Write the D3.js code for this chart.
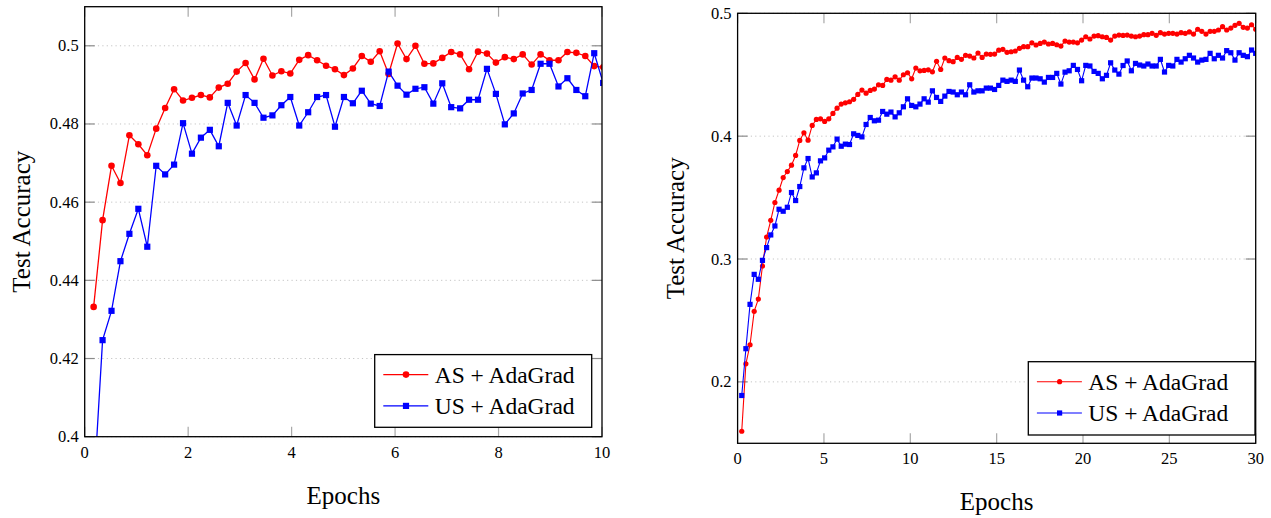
<!DOCTYPE html>
<html><head><meta charset="utf-8">
<script src="https://cdn.jsdelivr.net/npm/d3@7"></script>
<style>
html,body{margin:0;padding:0;background:#fff;}
svg{display:block;font-family:"Liberation Serif","Times New Roman",serif;}
</style></head>
<body><svg id="c" width="1271" height="518"></svg>
<script>
// ---------- data ----------
const seriesNames = ["AS + AdaGrad", "US + AdaGrad"];
const leftEpochStep = 0.1728;   // epochs between evaluations (left run)
const rightEpochStep = 0.24;    // epochs between evaluations (right run)
const leftXTicks = [0, 2, 4, 6, 8, 10];
const leftYTicks = [0.4, 0.42, 0.44, 0.46, 0.48, 0.5];
const rightXTicks = [0, 5, 10, 15, 20, 25, 30];
const rightYTicks = [0.2, 0.3, 0.4, 0.5];

const leftAS = [0.4332,0.4554,0.4693,0.4649,0.4771,0.4748,0.4720,0.4788,0.4841,0.4889,
0.4860,0.4867,0.4874,0.4868,0.4893,0.4903,0.4934,0.4956,0.4914,0.4967,
0.4924,0.4935,0.4929,0.4964,0.4976,0.4963,0.4949,0.4940,0.4925,0.4942,
0.4974,0.4959,0.4986,0.4928,0.5006,0.4966,0.5000,0.4954,0.4955,0.4969,
0.4984,0.4978,0.4940,0.4985,0.4980,0.4957,0.4971,0.4966,0.4978,0.4952,
0.4978,0.4963,0.4963,0.4984,0.4982,0.4974,0.4948,0.4945];
const leftUS = [0.3860,0.4247,0.4322,0.4449,0.4519,0.4583,0.4486,0.4693,0.4671,0.4696,
0.4802,0.4724,0.4765,0.4785,0.4743,0.4854,0.4796,0.4874,0.4854,0.4816,
0.4822,0.4848,0.4869,0.4796,0.4830,0.4869,0.4874,0.4793,0.4869,0.4853,
0.4885,0.4852,0.4846,0.4934,0.4898,0.4875,0.4890,0.4894,0.4852,0.4904,
0.4843,0.4840,0.4862,0.4862,0.4941,0.4877,0.4799,0.4827,0.4878,0.4887,
0.4954,0.4954,0.4896,0.4917,0.4887,0.4871,0.4981,0.4905];

const rightAS = [0.1598,0.2147,0.2302,0.2574,0.2674,0.2943,0.3179,0.3315,0.3460,0.3560,
0.3663,0.3712,0.3764,0.3843,0.3965,0.4027,0.3967,0.4087,0.4136,0.4141,
0.4120,0.4141,0.4185,0.4228,0.4261,0.4271,0.4280,0.4300,0.4340,0.4375,
0.4350,0.4372,0.4383,0.4418,0.4413,0.4462,0.4456,0.4483,0.4456,0.4500,
0.4516,0.4467,0.4554,0.4532,0.4535,0.4540,0.4524,0.4609,0.4543,0.4636,
0.4614,0.4606,0.4641,0.4625,0.4658,0.4652,0.4636,0.4676,0.4641,0.4668,
0.4666,0.4668,0.4700,0.4707,0.4682,0.4687,0.4693,0.4715,0.4728,0.4728,
0.4760,0.4742,0.4755,0.4766,0.4750,0.4755,0.4744,0.4733,0.4774,0.4766,
0.4766,0.4760,0.4782,0.4809,0.4791,0.4815,0.4818,0.4809,0.4804,0.4782,
0.4815,0.4823,0.4820,0.4823,0.4815,0.4809,0.4815,0.4826,0.4826,0.4837,
0.4821,0.4842,0.4831,0.4837,0.4837,0.4831,0.4842,0.4837,0.4848,0.4831,
0.4870,0.4853,0.4831,0.4853,0.4853,0.4864,0.4891,0.4864,0.4880,0.4902,
0.4918,0.4886,0.4880,0.4907,0.4870];
const rightUS = [0.1889,0.2270,0.2631,0.2875,0.2835,0.2989,0.3093,0.3196,0.3269,0.3405,
0.3389,0.3421,0.3541,0.3476,0.3590,0.3742,0.3818,0.3668,0.3701,0.3799,
0.3823,0.3886,0.3913,0.3976,0.3918,0.3935,0.3932,0.4019,0.4006,0.3994,
0.4095,0.4152,0.4125,0.4130,0.4201,0.4179,0.4196,0.4157,0.4190,0.4239,
0.4304,0.4250,0.4239,0.4261,0.4304,0.4277,0.4369,0.4315,0.4283,0.4326,
0.4364,0.4359,0.4337,0.4359,0.4337,0.4418,0.4359,0.4369,0.4369,0.4391,
0.4391,0.4380,0.4413,0.4456,0.4446,0.4456,0.4446,0.4538,0.4456,0.4402,
0.4473,0.4473,0.4467,0.4440,0.4478,0.4478,0.4511,0.4424,0.4521,0.4532,
0.4576,0.4543,0.4451,0.4576,0.4571,0.4527,0.4511,0.4467,0.4495,0.4597,
0.4538,0.4505,0.4575,0.4612,0.4532,0.4592,0.4579,0.4571,0.4587,0.4571,
0.4571,0.4625,0.4522,0.4576,0.4571,0.4625,0.4603,0.4630,0.4658,0.4636,
0.4603,0.4619,0.4625,0.4674,0.4630,0.4658,0.4636,0.4696,0.4679,0.4619,
0.4679,0.4658,0.4647,0.4701,0.4674];

// ---------- drawing ----------
const svg = d3.select("#c");
const colors = ["#ff0000", "#0000ff"];

function drawChart(cfg, id) {
  const x = d3.scaleLinear().domain(cfg.xDomain).range([cfg.x0, cfg.x1]);
  const y = d3.scaleLinear().domain(cfg.yDomain).range([cfg.y1, cfg.y0]);
  const g = svg.append("g");

  g.append("clipPath").attr("id", "clip" + id).append("rect")
    .attr("x", cfg.x0).attr("y", cfg.y0)
    .attr("width", cfg.x1 - cfg.x0).attr("height", cfg.y1 - cfg.y0);

  // horizontal grid (dotted)
  g.selectAll(".grid").data(cfg.yTicks).enter().append("line")
    .attr("x1", cfg.x0).attr("x2", cfg.x1)
    .attr("y1", d => y(d)).attr("y2", d => y(d))
    .attr("stroke", "#c4c4c4").attr("stroke-width", 1)
    .attr("stroke-dasharray", "1.2,3.2");

  // tick marks (inward, on all four sides)
  const tl = 10;
  const xt = g.append("g").attr("stroke", "#a8a8a8").attr("stroke-width", 1.2);
  cfg.xTicks.forEach(t => {
    xt.append("line").attr("x1", x(t)).attr("x2", x(t)).attr("y1", cfg.y1).attr("y2", cfg.y1 - tl);
    xt.append("line").attr("x1", x(t)).attr("x2", x(t)).attr("y1", cfg.y0).attr("y2", cfg.y0 + tl);
  });
  const yt = g.append("g").attr("stroke", "#8a8a8a").attr("stroke-width", 1.2);
  cfg.yTicks.forEach(t => {
    yt.append("line").attr("y1", y(t)).attr("y2", y(t)).attr("x1", cfg.x0).attr("x2", cfg.x0 + tl);
    yt.append("line").attr("y1", y(t)).attr("y2", y(t)).attr("x1", cfg.x1).attr("x2", cfg.x1 - tl);
  });

  // series
  const plot = g.append("g").attr("clip-path", "url(#clip" + id + ")");
  cfg.series.forEach((vals, si) => {
    const pts = vals.map((v, i) => [(i + 1) * cfg.step, v]);
    plot.append("path").datum(pts)
      .attr("fill", "none").attr("stroke", colors[si]).attr("stroke-width", cfg.lw)
      .attr("d", d3.line().x(d => x(d[0])).y(d => y(d[1])));
    if (si === 0) {
      plot.selectAll(".m" + si).data(pts).enter().append("circle")
        .attr("cx", d => x(d[0])).attr("cy", d => y(d[1])).attr("r", cfg.r)
        .attr("fill", colors[si]);
    } else {
      plot.selectAll(".m" + si).data(pts).enter().append("rect")
        .attr("x", d => x(d[0]) - cfg.sq / 2).attr("y", d => y(d[1]) - cfg.sq / 2)
        .attr("width", cfg.sq).attr("height", cfg.sq)
        .attr("fill", colors[si]);
    }
  });

  // frame
  g.append("rect").attr("x", cfg.x0).attr("y", cfg.y0)
    .attr("width", cfg.x1 - cfg.x0).attr("height", cfg.y1 - cfg.y0)
    .attr("fill", "none").attr("stroke", "#000").attr("stroke-width", 1.3);

  // tick labels
  g.selectAll(".xl").data(cfg.xTicks).enter().append("text")
    .attr("x", d => x(d)).attr("y", cfg.y1 + 21)
    .attr("text-anchor", "middle").attr("font-size", 16.5).attr("fill", "#000")
    .text(d => d);
  g.selectAll(".yl").data(cfg.yTicks).enter().append("text")
    .attr("x", cfg.x0 - 6).attr("y", d => y(d) + 5.5)
    .attr("text-anchor", "end").attr("font-size", 16.5).attr("fill", "#000")
    .text(d => d3.format("")(+d.toFixed(2)));

  // axis titles
  g.append("text").attr("x", (cfg.x0 + cfg.x1) / 2).attr("y", cfg.xTitleY)
    .attr("text-anchor", "middle").attr("font-size", 25).text("Epochs");
  g.append("text")
    .attr("transform", `translate(${cfg.yTitleX},${(cfg.y0 + cfg.y1) / 2}) rotate(-90)`)
    .attr("text-anchor", "middle").attr("font-size", 25).text("Test Accuracy");

  // legend
  const L = cfg.legend;
  const lx = cfg.x1 - L.right - L.w, ly = cfg.y1 - L.bottom - L.h;
  const lg = g.append("g");
  lg.append("rect").attr("x", lx).attr("y", ly).attr("width", L.w).attr("height", L.h)
    .attr("fill", "#fff").attr("stroke", "#000").attr("stroke-width", 1.3);
  seriesNames.forEach((name, si) => {
    const cy = ly + 20 + si * 31.3;
    lg.append("line").attr("x1", lx + 8.6).attr("x2", lx + 53.6).attr("y1", cy).attr("y2", cy)
      .attr("stroke", colors[si]).attr("stroke-width", cfg.lw);
    if (si === 0) lg.append("circle").attr("cx", lx + 31.3).attr("cy", cy).attr("r", cfg.r).attr("fill", colors[si]);
    else lg.append("rect").attr("x", lx + 31.3 - cfg.sq / 2).attr("y", cy - cfg.sq / 2)
      .attr("width", cfg.sq).attr("height", cfg.sq).attr("fill", colors[si]);
    lg.append("text").attr("x", lx + 60).attr("y", cy + 8.2).attr("font-size", 23.5).text(name);
  });
}

drawChart({
  x0: 84.7, x1: 602, y0: 6.7, y1: 436.7,
  xDomain: [0, 10], yDomain: [0.4, 0.51],
  xTicks: leftXTicks, yTicks: leftYTicks,
  step: leftEpochStep, series: [leftAS, leftUS],
  lw: 1.3, r: 3.3, sq: 6.2,
  xTitleY: 504, yTitleX: 30,
  legend: { w: 217, h: 72.7, right: 10.3, bottom: 9.4 }
}, 1);

drawChart({
  x0: 737.6, x1: 1255.7, y0: 13.3, y1: 443.3,
  xDomain: [0, 30], yDomain: [0.15, 0.5],
  xTicks: rightXTicks, yTicks: rightYTicks,
  step: rightEpochStep, series: [rightAS, rightUS],
  lw: 1.1, r: 2.6, sq: 5.2,
  xTitleY: 510, yTitleX: 684,
  legend: { w: 226.7, h: 73.3, right: 0.7, bottom: 8.3 }
}, 2);
</script></body></html>
